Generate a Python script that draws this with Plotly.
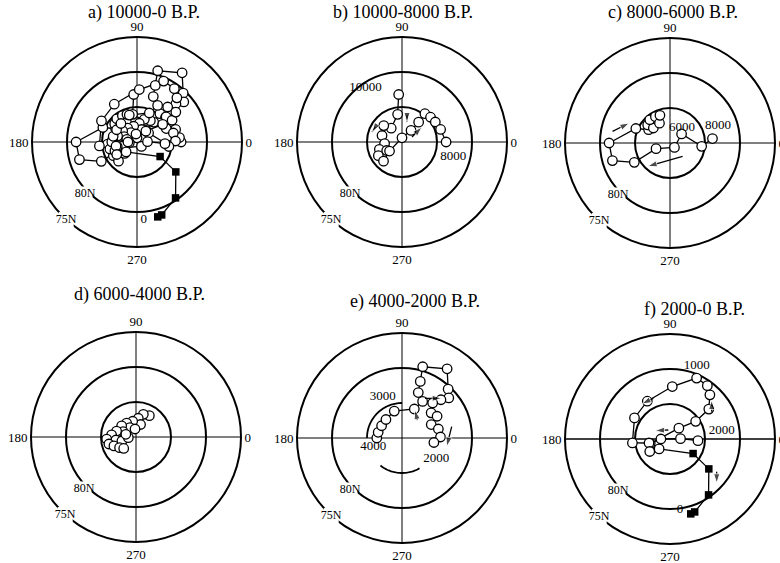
import plotly.graph_objects as go

# ---------------- data (latitude, longitude of VGP path) ----------------
# b) 10000-8000 B.P.
b_lat = [83.2, 86.0, 87.5, 86.5, 87.0, 87.5, 86.6, 87.5, 86.1, 86.2, 87.8, 89.4, 87.9, 86.3, 84.8, 84.6, 84.45, 84.2, 83.7]
b_lon = [94, 99, 128, 138, 162, 185, 198, 209, 210, 226, 216, 90, 52, 50, 51, 41, 31, 18, 0]
# c) 8000-6000 B.P.
c_lat = [83.9, 85.45, 87.9, 89.1, 87.85, 84.2, 81.4, 81.3, 84.7, 86.4, 85.9, 86.8, 85.6, 85.7, 86.8, 85.8]
c_lon = [6, 354, 38, 315, 202, 208.5, 197, 180, 157, 148, 141, 138, 131, 119, 118, 110]
# d) 6000-4000 B.P.
d_lat = [86.4, 86.6, 87.3, 88.1, 87.7, 87.6, 88.4, 87.4, 88.0, 87.1, 86.5, 85.8, 87.1, 86.0, 86.6, 87.9, 87.2, 87.6, 88.9, 88.5, 88.85]
d_lon = [58, 72, 83, 70, 102, 124, 123, 142, 157, 163, 175, 184, 188.5, 194.5, 202, 196, 213, 223, 185, 165, 97]
# e) 4000-2000 B.P.
e_lat = [86.4, 86.5, 86.6, 86.5, 86.0, 85.5, 84.0, 83.1, 81.5, 79.4, 78.2, 80.4, 81.2, 82.2, 83.35, 84.5, 84.1, 85.4, 84.65, 84.5, 85.4]
e_lon = [180, 166.5, 149, 131, 106, 67, 60.6, 70.3, 72.1, 73.8, 56.9, 46.6, 40.6, 44.5, 48.8, 40.8, 31.8, 24.7, 13.9, 1.5, 352]
# f) 2000-0 B.P. (open circles, then historical filled squares)
f_lat = [86.0, 88.5, 88.7, 87.1, 88.0, 85.55, 83.0, 81.5, 80.7, 80.5, 82.5, 83.7, 84.1, 84.6, 86.95, 86.6, 87.9]
f_lon = [356.6, 1.8, 180, 193, 50.7, 34.5, 37.6, 47.9, 55, 66.4, 87.5, 121, 149.3, 186, 190.8, 211.7, 222.3]
fh_lat = [86.1, 83.0, 80.3, 79.0, 78.9]
fh_lon = [327.8, 322.4, 304.6, 288.7, 285.5]

# a) 10000-0 B.P. : whole record
a_lat = b_lat + c_lat + d_lat + e_lat + f_lat
a_lon = b_lon + c_lon + d_lon + e_lon + f_lon

# age labels (text, lat, lon)
lab_a = [("0", 78.8, 275)]
lab_b = [("10000", 80.65, 124), ("8000", 82.4, 344)]
lab_c = [("6000", 87.2, 52), ("8000", 82.7, 20)]
lab_d = []
lab_e = [("3000", 83.5, 115), ("4000", 85.7, 197), ("2000", 84.3, 329)]
lab_f = [("1000", 78.8, 70), ("2000", 82.5, 9), ("0", 79.8, 278)]

# direction arrows: (lat_tail, lon_tail, lat_head, lon_head)
arr_b = [(86.12, 79.4, 87.06, 76), (85.63, 150.7, 85.48, 161.6), (88.4, 26.6, 86.43, 36.9)]
arr_c = [(81.63, 168.6, 83.52, 153.8), (87.37, 313.2, 85.37, 226.3)]
arr_e = [(83.45, 59.9, 81.98, 45), (86.63, 49.6, 85.59, 65.1), (82.72, 12.8, 83.5, 349)]
arr_f = [(83.72, 112.3, 83.57, 129), (82.88, 33.2, 81.84, 43.1), (88.69, 100.7, 87.55, 151), (81.86, 325, 80.8, 316.5)]

# partial 85N arcs drawn in panel e (lon start, lon end)
e_arcs = [(90, 180), (232, 300)]

titles = ["a) 10000-0 B.P.", "b) 10000-8000 B.P.", "c) 8000-6000 B.P.",
          "d) 6000-4000 B.P.", "e) 4000-2000 B.P.", "f) 2000-0 B.P."]
ring_labels = ["80N", "75N"]

# ---------------- layout geometry ----------------
W, H = 780, 563
R = 105
centers = [(137, 142), (402, 142), (670, 143), (136, 437), (402, 438), (670, 439)]
title_pos = [(144, 13), (403, 13), (673, 13), (139, 294), (415, 301), (694, 309)]

SERIF = "Liberation Serif, Times New Roman, serif"
fig = go.Figure()

panels = [
    (a_lat, a_lon, fh_lat, fh_lon, lab_a, []),
    (b_lat, b_lon, [], [], lab_b, arr_b),
    (c_lat, c_lon, [], [], lab_c, arr_c),
    (d_lat, d_lon, [], [], lab_d, []),
    (e_lat, e_lon, [], [], lab_e, arr_e),
    (f_lat, f_lon, fh_lat, fh_lon, lab_f, arr_f),
]

for i, (lat, lon, hlat, hlon, labs, arrs) in enumerate(panels):
    sp = "polar" if i == 0 else f"polar{i+1}"
    cx, cy = centers[i]
    no_vline = (i == 5)
    partial_inner = (i == 4)
    if no_vline:
        fig.add_trace(go.Scatterpolar(r=[75, 75], theta=[0, 180], mode="lines",
                                      line=dict(color="black", width=1.4),
                                      subplot=sp, showlegend=False, hoverinfo="skip"))
    if partial_inner:
        for (t0, t1) in e_arcs:
            th = list(range(t0, t1 + 1, 2))
            fig.add_trace(go.Scatterpolar(r=[85] * len(th), theta=th, mode="lines",
                                          line=dict(color="black", width=1.8),
                                          subplot=sp, showlegend=False, hoverinfo="skip"))
    # ring labels with white backing
    fig.add_trace(go.Scatterpolar(r=[79.5, 75.0], theta=[225, 227.6], mode="markers+text",
                                  text=ring_labels, textposition="middle center",
                                  marker=dict(symbol="square", size=15, color="white"),
                                  textfont=dict(family=SERIF, size=12, color="black"),
                                  cliponaxis=False, subplot=sp, showlegend=False, hoverinfo="skip"))
    # path line
    fig.add_trace(go.Scatterpolar(r=lat + hlat, theta=lon + hlon, mode="lines",
                                  line=dict(color="black", width=1.3),
                                  subplot=sp, showlegend=False, hoverinfo="skip"))
    fig.add_trace(go.Scatterpolar(r=lat, theta=lon, mode="markers",
                                  marker=dict(symbol="circle", size=9.5, color="white",
                                              line=dict(color="black", width=1.3)),
                                  subplot=sp, showlegend=False))
    if hlat:
        fig.add_trace(go.Scatterpolar(r=hlat, theta=hlon, mode="markers",
                                      marker=dict(symbol="square", size=7.5, color="black"),
                                      subplot=sp, showlegend=False))
    for (t, la, lo) in labs:
        fig.add_trace(go.Scatterpolar(r=[la], theta=[lo], mode="text", text=[t],
                                      textposition="middle center",
                                      textfont=dict(family=SERIF, size=13, color="black"),
                                      cliponaxis=False, subplot=sp, showlegend=False, hoverinfo="skip"))
    for (la0, lo0, la1, lo1) in arrs:
        fig.add_trace(go.Scatterpolar(r=[la0, la1], theta=[lo0, lo1], mode="lines+markers",
                                      line=dict(color="black", width=1.3),
                                      marker=dict(symbol="arrow", size=[0, 10], color="black",
                                                  angleref="previous"),
                                      subplot=sp, showlegend=False, hoverinfo="skip"))

    fig.update_layout({sp: dict(
        domain=dict(x=[(cx - R) / W, (cx + R) / W], y=[(H - cy - R) / H, (H - cy + R) / H]),
        bgcolor="white",
        radialaxis=dict(range=[90, 75], tickvals=[80] if partial_inner else [85, 80],
                        showticklabels=False, ticks="",
                        showline=False, gridcolor="black", gridwidth=1.8, layer="below traces"),
        angularaxis=dict(rotation=0, direction="counterclockwise",
                         tickvals=[0, 90, 180, 270], ticktext=["0", "90", "180", "270"],
                         ticks="", showline=True, linecolor="black", linewidth=2,
                         showgrid=not no_vline, gridcolor="black", gridwidth=1.4,
                         tickfont=dict(family=SERIF, size=13, color="black"),
                         layer="below traces"),
    )})
    tx, ty = title_pos[i]
    fig.add_annotation(x=tx / W, y=1 - ty / H, xref="paper", yref="paper", text=titles[i],
                       showarrow=False, xanchor="center", yanchor="middle",
                       font=dict(family=SERIF, size=18, color="black"))

fig.update_layout(width=W, height=H, margin=dict(l=0, r=0, t=0, b=0),
                  paper_bgcolor="white", plot_bgcolor="white", showlegend=False)
fig.write_html("out.html", config={"displayModeBar": False},
               post_script="document.body.style.margin='0';")
